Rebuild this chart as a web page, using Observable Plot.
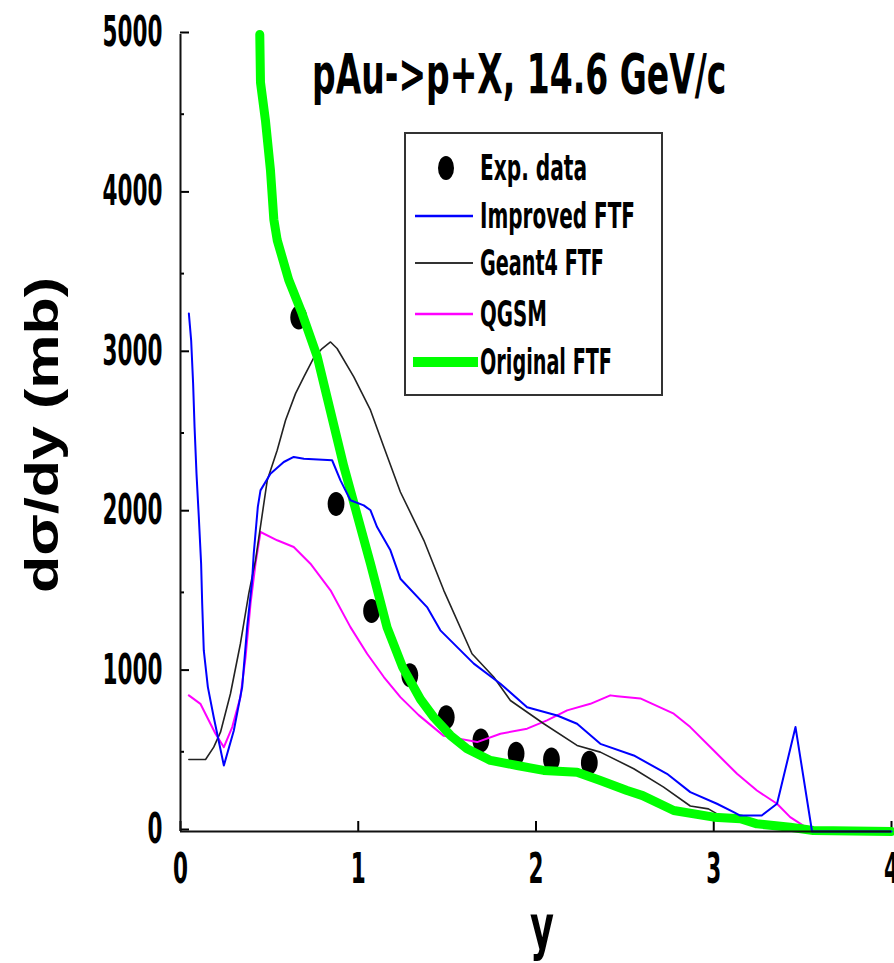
<!DOCTYPE html>
<html><head><meta charset="utf-8">
<script src="https://cdn.jsdelivr.net/npm/d3@7"></script>
<script src="https://cdn.jsdelivr.net/npm/@observablehq/plot@0.6"></script>
<style>
html,body{margin:0;padding:0;background:#fff;}
#chart{width:894px;height:963px;overflow:hidden;position:relative;}
</style></head><body><div id="chart"></div>
<script>
// ---- data ----
const titleText = "pAu->p+X, 14.6 GeV/c";
const yLabel = "dσ/dy (mb)";
const xLabel = "y";
const legendLabels = ["Exp. data", "Improved FTF", "Geant4 FTF", "QGSM", "Original FTF"];
const yTicks = [0, 1000, 2000, 3000, 4000, 5000];
const yMinorTicks = [500, 1500, 2500, 3500, 4500];
const xTicks = [0, 1, 2, 3, 4];

const expX = [0.665, 0.875, 1.075, 1.29, 1.495, 1.69, 1.888, 2.087, 2.30];
const expY = [3225, 2055, 1383, 980, 717, 571, 488, 452, 431];

const improvedX = [0.047,0.06,0.071,0.079,0.09,0.103,0.116,0.122,0.131,0.154,0.187,0.244,0.30,0.347,0.375,0.403,0.412,0.435,0.45,0.506,0.581,0.637,0.694,0.853,0.9,0.956,1.031,1.069,1.106,1.181,1.237,1.387,1.462,1.65,1.8,1.95,2.119,2.231,2.362,2.55,2.737,2.868,3.018,3.112,3.149,3.27,3.356,3.46,3.553,4.0];
const improvedY = [3250,3080,2810,2540,2245,1973,1680,1430,1136,906,717,414,634,906,1282,1576,1743,2036,2140,2245,2318,2350,2339,2329,2203,2078,2046,2015,1910,1764,1586,1408,1262,1053,927,780,728,676,550,477,362,247,174,121,100,100,174,655,0,0];

const geant4X = [0.047,0.141,0.187,0.225,0.281,0.337,0.384,0.422,0.488,0.544,0.591,0.647,0.694,0.75,0.797,0.844,0.881,0.975,1.069,1.144,1.237,1.369,1.481,1.64,1.762,1.856,2.044,2.231,2.362,2.55,2.718,2.868,2.97,3.05];
const geant4Y = [452,452,529,623,864,1178,1492,1701,2203,2392,2580,2747,2852,2973,3030,3071,3030,2852,2643,2412,2130,1827,1513,1115,969,822,676,540,498,394,278,160,142,90];

const qgsmX = [0.047,0.112,0.15,0.197,0.244,0.291,0.337,0.366,0.394,0.422,0.45,0.544,0.637,0.731,0.844,0.956,1.05,1.144,1.237,1.34,1.481,1.669,1.8,1.95,2.062,2.175,2.306,2.418,2.456,2.587,2.775,2.868,3.0,3.131,3.243,3.356,3.43,3.506];
const qgsmY = [854,801,717,613,529,655,843,1094,1429,1680,1879,1827,1785,1680,1513,1282,1115,969,843,730,600,561,613,645,697,760,801,854,849,835,739,655,508,362,257,174,90,35];

const originalX = [0.446,0.45,0.478,0.506,0.525,0.544,0.609,0.684,0.769,0.919,1.069,1.162,1.25,1.35,1.425,1.519,1.612,1.744,1.894,2.043,2.231,2.362,2.512,2.6,2.775,3.0,3.15,3.243,3.43,3.56,4.0];
const originalY = [5000,4700,4460,4150,3840,3710,3460,3250,2980,2290,1680,1280,1030,830,717,603,519,446,414,383,372,320,257,225,132,90,80,48,27,6,0];

const zip = (xs, ys) => xs.map((x, i) => ({x, y: ys[i]}));
const exp = zip(expX, expY);
const improved = zip(improvedX, improvedY);
const geant4 = zip(geant4X, geant4Y);
const qgsm = zip(qgsmX, qgsmY);
const original = zip(originalX, originalY);

// elliptical marker (as in the reference)
const ellipseSymbol = {
  draw(ctx, size) {
    const r = Math.sqrt(size / Math.PI), rx = r * 0.7, ry = r, k = 0.5523;
    ctx.moveTo(rx, 0);
    ctx.bezierCurveTo(rx, ry * k, rx * k, ry, 0, ry);
    ctx.bezierCurveTo(-rx * k, ry, -rx, ry * k, -rx, 0);
    ctx.bezierCurveTo(-rx, -ry * k, -rx * k, -ry, 0, -ry);
    ctx.bezierCurveTo(rx * k, -ry, rx, -ry * k, rx, 0);
    ctx.closePath();
  }
};

const narrow = "'Liberation Sans Narrow', 'Arial Narrow', 'DejaVu Sans Condensed', sans-serif";

const chart = Plot.plot({
  width: 894, height: 963,
  marginLeft: 180, marginRight: 3, marginTop: 34, marginBottom: 132,
  x: {domain: [0, 4]},
  y: {domain: [0, 5000]},
  style: `background:#fff;color:#000;font-family:${narrow};font-weight:bold;font-size:42px;`,
  marks: [
    Plot.axisY({ticks: yTicks, tickSize: -9, tickPadding: 27, tickFormat: d => String(d), label: null, strokeWidth: 2, dy: -2}),
    Plot.axisY({ticks: yMinorTicks, tickSize: -4, tickFormat: () => "", label: null, strokeWidth: 2}),
    Plot.axisX({ticks: xTicks, tickSize: -10, tickPadding: 32, tickFormat: d => String(d), label: null, strokeWidth: 2}),
    Plot.dot(exp, {x: "x", y: "y", symbol: ellipseSymbol, r: 12, fill: "#000", stroke: "none"}),
    Plot.line(qgsm, {x: "x", y: "y", stroke: "#ff00ff", strokeWidth: 2}),
    Plot.line(geant4, {x: "x", y: "y", stroke: "#222", strokeWidth: 1.6}),
    Plot.line(original, {x: "x", y: "y", stroke: "#00ff00", strokeWidth: 9, strokeLinejoin: "round"}),
    Plot.line(improved, {x: "x", y: "y", stroke: "#0000ff", strokeWidth: 2}),
    Plot.ruleX([0], {stroke: "#111", strokeWidth: 2}),
    Plot.ruleY([0], {stroke: "#111", strokeWidth: 2})
  ]
});
document.getElementById("chart").appendChild(chart);

const svg = d3.select(chart);
// condensed, tall tick digits like the reference
svg.selectAll('g[aria-label="y-axis tick label"] text, g[aria-label="x-axis tick label"] text').each(function() {
  const t = this.textContent;
  if (t) d3.select(this).attr("textLength", 15 * t.length).attr("lengthAdjust", "spacingAndGlyphs");
});

// title inside the frame (tall, condensed look via vertical scale)
svg.append("text").attr("transform", "translate(312,93) scale(1,1.5)").attr("text-anchor", "start")
  .attr("font-size", 36.7)
  .text(titleText);

// y axis title
svg.append("text").attr("transform", "translate(58,435) rotate(-90)")
  .attr("text-anchor", "middle")
  .attr("font-family", "'Liberation Sans', Arial, sans-serif").attr("font-weight", "bold")
  .attr("font-size", 46).attr("textLength", 316).attr("lengthAdjust", "spacingAndGlyphs")
  .text(yLabel);

// x axis title
svg.append("text").attr("x", 542).attr("y", 948).attr("text-anchor", "middle")
  .attr("font-size", 60).attr("textLength", 24).attr("lengthAdjust", "spacingAndGlyphs")
  .text(xLabel);

// legend
const lg = svg.append("g").attr("aria-label", "legend").attr("text-anchor", "start");
lg.append("rect").attr("x", 405).attr("y", 133).attr("width", 257).attr("height", 262)
  .attr("fill", "#fff").attr("stroke", "#333").attr("stroke-width", 2);
const rowsY = [168, 216, 263, 314, 362];
const textLens = [107, 155, 124, 67, 132];
const styles = [null, {c: "#0000ff", w: 2.5}, {c: "#333", w: 2}, {c: "#ff00ff", w: 2.5}, {c: "#00ff00", w: 10}];
legendLabels.forEach((lab, i) => {
  const cy = rowsY[i];
  if (i === 0) {
    lg.append("ellipse").attr("cx", 446).attr("cy", cy).attr("rx", 8).attr("ry", 12).attr("fill", "#000");
  } else {
    const s = styles[i];
    lg.append("line").attr("x1", i === 4 ? 413 : 415).attr("x2", i === 4 ? 478 : 473)
      .attr("y1", cy).attr("y2", cy).attr("stroke", s.c).attr("stroke-width", s.w);
  }
  lg.append("text").attr("x", 480).attr("y", cy + 12).attr("text-anchor", "start").attr("font-size", 35)
    .attr("textLength", textLens[i]).attr("lengthAdjust", "spacingAndGlyphs").text(lab);
});
</script>
</body></html>
